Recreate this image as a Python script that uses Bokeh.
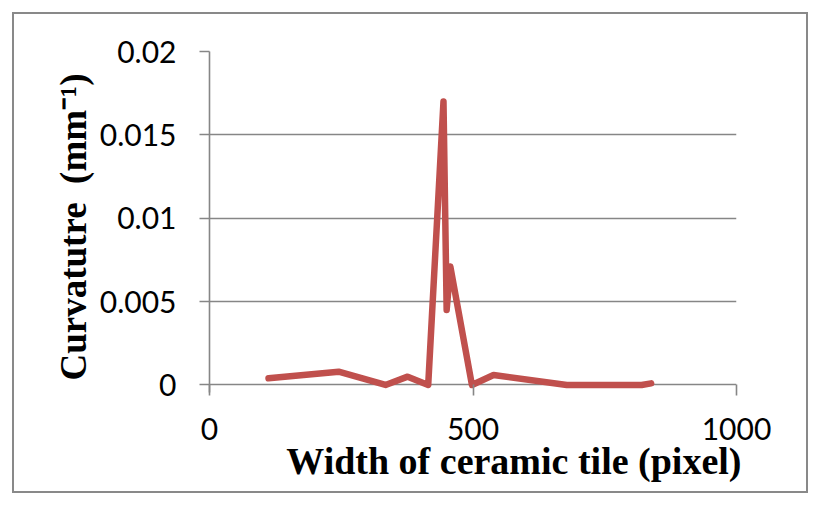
from bokeh.plotting import figure
from bokeh.models import Range1d, FixedTicker, Title
from bokeh.embed import file_html
from bokeh.resources import INLINE

# Data
width_px = [112, 245, 334, 376, 415, 444, 450, 457, 498, 539, 678, 820, 838]
curvature = [0.0004, 0.0008, 0.0, 0.0005, 0.0, 0.017, 0.0045, 0.0071, 0.0, 0.0006, 0.0, 0.0, 0.0001]

x_ticks = [0, 500, 1000]
x_tick_labels = ["0", "500", "1000"]
y_ticks = [0, 0.005, 0.01, 0.015, 0.02]
y_tick_labels = ["0", "0.005", "0.01", "0.015", "0.02"]

x_title = "Width of ceramic tile (pixel)"
y_title = "Curvatutre\u00a0 (mm\u207b\u00b9)"

W, H = 820, 505
p = figure(width=W, height=H, output_backend="svg", toolbar_location=None,
           x_range=Range1d(0, 1000), y_range=Range1d(-0.00045, 0.02),
           min_border_left=209, min_border_right=84, min_border_top=51, min_border_bottom=113)

p.outline_line_color = None
p.background_fill_color = None
p.border_fill_color = None
p.styles = {"outline": "2px solid #898989", "outline-offset": "-14px"}

# grid
p.xgrid.grid_line_color = None
p.ygrid.ticker = FixedTicker(ticks=y_ticks)
p.ygrid.grid_line_color = "#868686"
p.ygrid.grid_line_width = 1.6

# x axis
xa = p.xaxis[0]
xa.ticker = FixedTicker(ticks=x_ticks)
xa.major_label_overrides = {t: l for t, l in zip(x_ticks, x_tick_labels)}
xa.axis_line_color = None
xa.major_tick_in = 8
xa.major_tick_out = 3
xa.major_tick_line_color = "#868686"
xa.major_tick_line_width = 1.6
xa.minor_tick_line_color = None
xa.major_label_text_font = "Lato"
xa.major_label_text_font_size = "30px"
xa.major_label_text_color = "black"
xa.major_label_standoff = 22

# y axis
ya = p.yaxis[0]
ya.ticker = FixedTicker(ticks=y_ticks)
ya.major_label_overrides = {t: l for t, l in zip(y_ticks, y_tick_labels)}
ya.axis_line_color = "#868686"
ya.axis_line_width = 1.6
ya.major_tick_in = 0
ya.major_tick_out = 10
ya.major_tick_line_color = "#868686"
ya.major_tick_line_width = 1.6
ya.minor_tick_line_color = None
ya.major_label_text_font = "Lato"
ya.major_label_text_font_size = "30px"
ya.major_label_text_color = "black"
ya.major_label_standoff = 23

# axis titles (placed as titles so they can be shifted like in the reference)
xt = Title(text=x_title, align="right", offset=-5, standoff=-10,
           text_font="Liberation Serif", text_font_style="bold",
           text_font_size="38px", text_color="black")
p.add_layout(xt, "below")
yt = Title(text=y_title, align="left", offset=12, standoff=5,
           text_font="Liberation Serif", text_font_style="bold",
           text_font_size="37px", text_color="black")
p.add_layout(yt, "left")

p.line(width_px, curvature, line_color="#C0504D", line_width=6.5,
       line_cap="round", line_join="round")

open("out.html", "w").write(file_html(p, INLINE))
